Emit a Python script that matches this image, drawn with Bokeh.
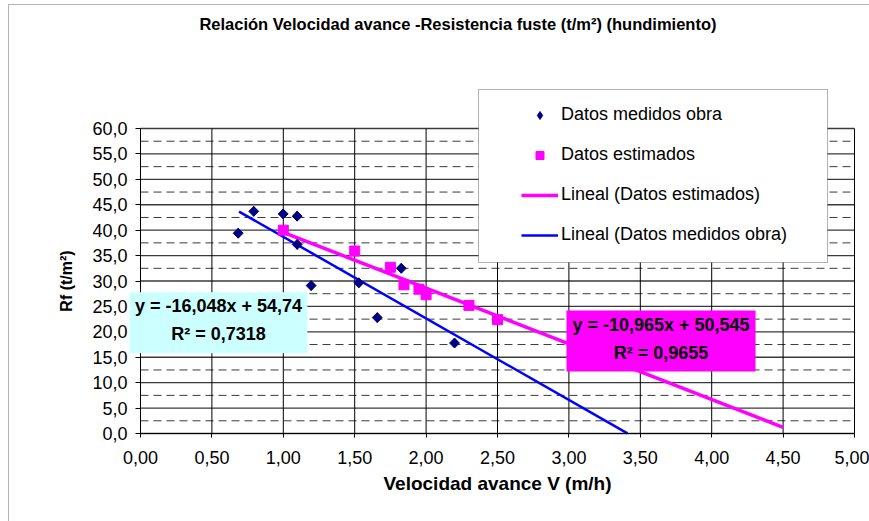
from bokeh.plotting import figure
from bokeh.models import (Range1d, FixedTicker, CustomJSTickFormatter, BoxAnnotation,
                          Label, Legend, LegendItem)
from bokeh.embed import file_html
from bokeh.resources import INLINE
import math

# ---- data ----
medidos_v = [0.684, 0.793, 0.999, 1.097, 1.097, 1.195, 1.529, 1.658, 1.826, 2.199]
medidos_rf = [39.4, 43.7, 43.2, 42.75, 37.2, 29.1, 29.65, 22.8, 32.5, 17.8]
estimados_v = [1.00, 1.50, 1.75, 1.845, 1.95, 2.00, 2.30, 2.50]
estimados_rf = [40.0, 35.9, 32.7, 29.25, 28.4, 27.3, 25.2, 22.4]

slope_medidos, intercept_medidos = -16.048, 54.74
trend_medidos_v = [0.69, 3.41]
slope_estimados, intercept_estimados = -10.965, 50.545
trend_estimados_v = [1.00, 4.50]

x_ticks = [0.0, 0.5, 1.0, 1.5, 2.0, 2.5, 3.0, 3.5, 4.0, 4.5, 5.0]
y_ticks = [0, 5, 10, 15, 20, 25, 30, 35, 40, 45, 50, 55, 60]
y_minor = [t + 2.5 for t in y_ticks[:-1]]
x_lim = (x_ticks[0], x_ticks[-1])
y_lim = (y_ticks[0], y_ticks[-1])

title_text = "Relación Velocidad avance -Resistencia fuste (t/m²) (hundimiento)"
x_label = "Velocidad avance V (m/h)"
y_label = "Rf (t/m²)"
eq_medidos = ["y = -16,048x + 54,74", "R² = 0,7318"]
eq_estimados = ["y = -10,965x + 50,545", "R² = 0,9655"]
legend_labels = ["Datos medidos obra", "Datos estimados",
                 "Lineal (Datos estimados)", "Lineal (Datos medidos obra)"]

FONT = "Liberation Sans"
NAVY = "#000080"
MAGENTA = "#FF00FF"
BLUE = "#0000FF"

# the frame covers the whole canvas; the plot area (0..5 x 0..60) sits inside it
p = figure(width=869, height=521, output_backend="svg", toolbar_location=None,
           x_range=Range1d(-0.98039, 5.10504), y_range=Range1d(-17.313, 85.186),
           min_border=0)
p.background_fill_color = "white"
p.border_fill_color = "white"
p.outline_line_color = None
p.xgrid.grid_line_color = None
p.ygrid.grid_line_color = None

# axes
p.xaxis.ticker = FixedTicker(ticks=x_ticks)
p.yaxis.ticker = FixedTicker(ticks=y_ticks)
p.xaxis.formatter = CustomJSTickFormatter(code="return tick.toFixed(2).replace('.', ',');")
p.yaxis.formatter = CustomJSTickFormatter(code="return tick.toFixed(1).replace('.', ',');")
p.xaxis.fixed_location = 0
p.yaxis.fixed_location = 0
p.xaxis.bounds = x_lim
p.yaxis.bounds = y_lim
for ax in (p.xaxis, p.yaxis):
    ax.major_label_text_font = FONT
    ax.major_label_text_font_size = "18px"
    ax.major_label_text_color = "black"
    ax.axis_line_color = "black"
    ax.major_tick_line_color = "black"
    ax.major_tick_in = 0
    ax.minor_tick_line_color = None
    ax.axis_label_text_font = FONT
    ax.axis_label_text_font_style = "bold"
    ax.axis_label_text_color = "black"
p.xaxis.major_tick_out = 4
p.yaxis.major_tick_out = 5
p.xaxis.major_label_standoff = 14
p.yaxis.major_label_standoff = 8
p.xaxis.axis_label = x_label
p.xaxis.axis_label_text_font_size = "19px"
p.xaxis.axis_label_standoff = 5
p.yaxis.axis_label = y_label
p.yaxis.axis_label_text_font_size = "16px"
p.yaxis.axis_label_standoff = 14

# grid lines of the plot area (drawn from the tick lists)
p.segment(x0=[x_lim[0]] * len(y_minor), y0=y_minor,
          x1=[x_lim[1]] * len(y_minor), y1=y_minor,
          line_color="#3a3a3a", line_width=1, line_dash="8 5")
p.segment(x0=[x_lim[0]] * len(y_ticks), y0=y_ticks,
          x1=[x_lim[1]] * len(y_ticks), y1=y_ticks,
          line_color="#3a3a3a", line_width=1.3)
p.segment(x0=x_ticks, y0=[y_lim[0]] * len(x_ticks),
          x1=x_ticks, y1=[y_lim[1]] * len(x_ticks),
          line_color="black", line_width=1)

# trend lines
tm_y = [slope_medidos * v + intercept_medidos for v in trend_medidos_v]
te_y = [slope_estimados * v + intercept_estimados for v in trend_estimados_v]
r_te = p.line(trend_estimados_v, te_y, line_color=MAGENTA, line_width=3.5)
r_tm = p.line(trend_medidos_v, tm_y, line_color=BLUE, line_width=2.5)

# points: a diamond glyph (used by the legend) under a rotated square (equal-sided diamond)
r_med_leg = p.scatter(medidos_v, medidos_rf, marker="diamond", size=9.6,
                      fill_color=NAVY, line_color=NAVY)
r_med = p.scatter(medidos_v, medidos_rf, marker="square", angle=math.pi / 4, size=7,
                  fill_color=NAVY, line_color=NAVY)
r_est = p.scatter(estimados_v, estimados_rf, marker="square", size=10,
                  fill_color=MAGENTA, line_color=MAGENTA)

# outer chart border
p.add_layout(BoxAnnotation(left=-0.924, right=5.3, top=84.4, bottom=-25,
                           fill_alpha=0, line_color="black", line_width=1))

# title
p.add_layout(Label(x=2.223, y=80.5, text=title_text, text_align="center",
                   text_baseline="middle", text_font=FONT, text_font_size="16.5px",
                   text_font_style="bold", text_color="black"))

# legend box
p.add_layout(BoxAnnotation(left=2.367, right=4.811, top=67.68, bottom=33.64,
                           fill_color="white", fill_alpha=1,
                           line_color="black", line_width=1))
legend = Legend(items=[
    LegendItem(label=legend_labels[0], renderers=[r_med_leg]),
    LegendItem(label=legend_labels[1], renderers=[r_est]),
    LegendItem(label=legend_labels[2], renderers=[r_te]),
    LegendItem(label=legend_labels[3], renderers=[r_tm]),
], location=(521, 276), orientation="vertical",
    glyph_width=37, glyph_height=20, label_height=20, spacing=19,
    label_standoff=3, padding=0, margin=0,
    background_fill_alpha=0, border_line_color=None,
    label_text_font=FONT, label_text_font_size="18px", label_text_color="black")
p.add_layout(legend)

# equation boxes
p.add_layout(BoxAnnotation(left=-0.077, right=1.169, top=27.8, bottom=15.8,
                           fill_color="#CCFFFF", fill_alpha=1, line_color=None))
p.add_layout(BoxAnnotation(left=2.983, right=4.307, top=24.2, bottom=12.2,
                           fill_color=MAGENTA, fill_alpha=1, line_color=None))
for x, ys, lines in ((0.546, (24.99, 19.67), eq_medidos),
                     (3.645, (21.25, 15.74), eq_estimados)):
    for y, t in zip(ys, lines):
        p.add_layout(Label(x=x, y=y, text=t, text_align="center",
                           text_baseline="middle", text_font=FONT,
                           text_font_size="18px", text_font_style="bold",
                           text_color="black"))

open("out.html", "w").write(file_html(p, INLINE))
